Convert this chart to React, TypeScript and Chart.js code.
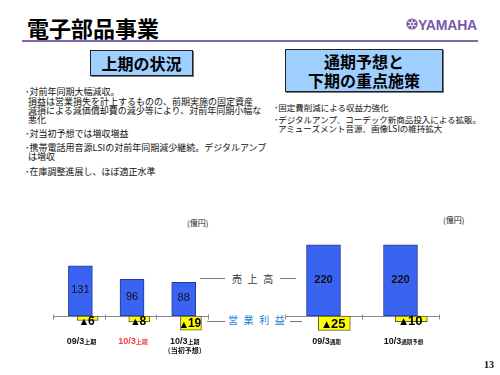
import React, { useEffect, useRef } from "react";
import { Chart, registerables } from "chart.js";

Chart.register(...registerables);

// ---- data ----
const leftCategories = ["09/3", "10/3", "10/3"];
const leftSuffixes = ["上期", "上期", "上期"];
const leftNotes = ["", "", "（当初予想）"];
const leftSales = [131, 96, 88];
const leftProfit = [-6, -8, -19];

const rightCategories = ["09/3", "10/3"];
const rightSuffixes = ["通期", "通期予想"];
const rightNotes = ["", ""];
const rightSales = [220, 220];
const rightProfit = [-25, -10];

const leftBullets = [
  ["･対前年同期大幅減収。", "損益は営業損失を計上するものの、前期実施の固定資産", "減損による減価償却費の減少等により、対前年同期小幅な", "悪化"],
  ["･対当初予想では増収増益"],
  ["･携帯電話用音源LSIの対前年同期減少継続。デジタルアンプ", "は増収"],
  ["･在庫調整進展し、ほぼ適正水準"],
];
const rightBullets = [
  ["･固定費削減による収益力強化"],
  ["･デジタルアンプ、コーデック新商品投入による拡販。", "アミューズメント音源、画像LSIの維持拡大"],
];

const JP = '"Noto Sans CJK JP", "Noto Sans", sans-serif';

const decorPlugin = {
  id: "decor",
  beforeDatasetsDraw(chart: any, _args: any, opts: any) {
    const { ctx, chartArea, scales } = chart;
    const x = scales.x;
    const y0 = Math.round(scales.y.getPixelForValue(0)) + 0.5;
    ctx.save();
    ctx.strokeStyle = "#8a8a8a";
    ctx.lineWidth = 1;
    ctx.beginPath();
    ctx.moveTo(chartArea.left, y0);
    ctx.lineTo(chartArea.right, y0);
    for (let i = 0; i <= opts.count; i++) {
      const px = Math.round(x.getPixelForValue(i - 0.5)) + 0.5;
      ctx.moveTo(px, y0 - 2);
      ctx.lineTo(px, y0 + 3);
    }
    ctx.stroke();
    ctx.restore();
  },
  afterDatasetsDraw(chart: any, _args: any, opts: any) {
    const { ctx, scales } = chart;
    const x = scales.x;
    const y0 = scales.y.getPixelForValue(0);
    ctx.save();
    ctx.textBaseline = "middle";
    ctx.textAlign = "left";
    // sales labels
    const m0 = chart.getDatasetMeta(0);
    m0.data.forEach((el: any, i: number) => {
      const txt = String(opts.sales[i]);
      ctx.font = `${opts.salesBold ? "bold " : ""}${opts.salesSize}px "Liberation Sans", Arial, sans-serif`;
      ctx.fillStyle = "#111";
      const w = ctx.measureText(txt).width;
      ctx.fillText(txt, el.x - w / 2, (el.y + el.base) / 2 - 1);
    });
    // profit labels
    const m1 = chart.getDatasetMeta(1);
    m1.data.forEach((el: any, i: number) => {
      const num = String(Math.abs(opts.profit[i]));
      const cy = Math.max((el.y + el.base) / 2 + 1, y0 + 5.5);
      const triFont = `${opts.profitSize * 0.68}px "DejaVu Sans", sans-serif`;
      const numFont = `bold ${opts.profitSize}px "Liberation Sans", Arial, sans-serif`;
      ctx.font = triFont;
      const tw = ctx.measureText("▲").width;
      ctx.font = numFont;
      const nw = ctx.measureText(num).width;
      const sx = el.x - (tw + nw + 1) / 2;
      ctx.fillStyle = "#000";
      ctx.font = triFont;
      ctx.fillText("▲", sx, cy + 0.5);
      ctx.font = numFont;
      ctx.fillText(num, sx + tw + 1, cy);
    });
    // category labels
    opts.categories.forEach((c: string, i: number) => {
      const cx = x.getPixelForValue(i + opts.labelShift);
      const f1 = `bold 9px "Liberation Sans", Arial, sans-serif`;
      const f2 = `bold ${opts.suffixSize}px ${JP}`;
      ctx.font = f1;
      const w1 = ctx.measureText(c).width;
      ctx.font = f2;
      const w2 = ctx.measureText(opts.suffixes[i]).width;
      const sx = cx - (w1 + w2) / 2;
      ctx.fillStyle = opts.labelColors[i];
      ctx.font = f1;
      ctx.fillText(c, sx, y0 + 25.5);
      ctx.font = f2;
      ctx.fillText(opts.suffixes[i], sx + w1, y0 + 26);
      if (opts.notes[i]) {
        ctx.font = `bold 7px ${JP}`;
        ctx.fillStyle = "#111";
        const w3 = ctx.measureText(opts.notes[i]).width;
        ctx.fillText(opts.notes[i], cx - w3 / 2, y0 + 34);
      }
    });
    ctx.restore();
  },
};

type PanelProps = {
  left: number;
  top: number;
  width: number;
  height: number;
  pad: { left: number; right: number; top: number; bottom: number };
  categories: string[];
  suffixes: string[];
  notes: string[];
  labelColors: string[];
  sales: number[];
  profit: number[];
  yRange: [number, number];
  y2Range: [number, number];
  salesShift: number;
  profitShift: number;
  salesWidth: number;
  profitWidth: number;
  salesBold: boolean;
  salesSize: number;
  profitSize: number;
  suffixSize: number;
  labelShift: number;
};

function Panel(p: PanelProps) {
  const ref = useRef<HTMLCanvasElement>(null);
  useEffect(() => {
    if (!ref.current) return;
    const n = p.categories.length;
    const chart = new Chart(ref.current, {
      type: "bar",
      data: {
        datasets: [
          {
            label: "売上高",
            data: p.sales.map((v, i) => ({ x: i + p.salesShift, y: v })),
            backgroundColor: "#3a63f2",
            borderColor: "#233c9c",
            borderWidth: 1,
            borderSkipped: false,
            barThickness: p.salesWidth,
            grouped: false,
            yAxisID: "y",
          },
          {
            label: "営業利益",
            data: p.profit.map((v, i) => ({ x: i + p.profitShift, y: v })),
            backgroundColor: "#ffff00",
            borderColor: "#5a5a3a",
            borderWidth: 1,
            borderSkipped: false,
            barThickness: p.profitWidth,
            grouped: false,
            yAxisID: "y2",
          },
        ] as any,
      },
      options: {
        animation: false,
        responsive: false,
        layout: { padding: p.pad },
        scales: {
          x: { type: "linear", display: false, min: -0.5, max: n - 0.5, offset: false },
          y: { display: false, min: p.yRange[0], max: p.yRange[1] },
          y2: { display: false, min: p.y2Range[0], max: p.y2Range[1] },
        },
        plugins: {
          legend: { display: false },
          tooltip: { enabled: false },
          decor: {
            count: n,
            categories: p.categories,
            suffixes: p.suffixes,
            notes: p.notes,
            labelColors: p.labelColors,
            sales: p.sales,
            profit: p.profit,
            salesBold: p.salesBold,
            salesSize: p.salesSize,
            profitSize: p.profitSize,
            suffixSize: p.suffixSize,
            labelShift: p.labelShift,
          },
        } as any,
      },
      plugins: [decorPlugin as any],
    });
    return () => chart.destroy();
  }, []);
  return (
    <canvas
      ref={ref}
      width={p.width}
      height={p.height}
      style={{ position: "absolute", left: p.left, top: p.top, width: p.width, height: p.height }}
    />
  );
}

function Text(props: { x: number; cy: number; size: number; children: any; style?: any }) {
  return (
    <div
      style={{
        position: "absolute",
        left: props.x,
        top: props.cy - props.size / 2,
        fontSize: props.size,
        lineHeight: `${props.size}px`,
        whiteSpace: "nowrap",
        fontFamily: JP,
        color: "#111",
        ...(props.style || {}),
      }}
    >
      {props.children}
    </div>
  );
}

export default function App() {
  const leftLineY = [[91, 101, 110, 119], [133], [147, 156], [171]];
  const rightLineY = [[107], [119, 128]];
  return (
    <div
      style={{
        position: "absolute",
        left: 0,
        top: 0,
        width: 500,
        height: 375,
        background: "#fff",
        overflow: "hidden",
        fontFamily: JP,
      }}
    >
      {/* title */}
      <div
        style={{
          position: "absolute",
          left: 27,
          top: 16,
          fontSize: 22,
          lineHeight: "22px",
          fontWeight: 700,
          fontFamily: JP,
          color: "#000",
          whiteSpace: "nowrap",
        }}
      >
        電子部品事業
      </div>
      <div style={{ position: "absolute", left: 22, top: 40, width: 456, height: 2, background: "#7f66b3" }} />
      {/* logo */}
      <svg style={{ position: "absolute", left: 406, top: 18 }} width="12" height="12" viewBox="0 0 12 12">
        <circle cx="6" cy="6" r="5.6" fill="#7a58a8" />
        <g stroke="#fff" strokeWidth="1.2">
          <line x1="6" y1="1.5" x2="6" y2="10.5" />
          <line x1="2.1" y1="3.75" x2="9.9" y2="8.25" />
          <line x1="2.1" y1="8.25" x2="9.9" y2="3.75" />
        </g>
        <circle cx="6" cy="6" r="1.6" fill="#7a58a8" stroke="#fff" strokeWidth="0.8" />
      </svg>
      <div
        style={{
          position: "absolute",
          left: 418,
          top: 17,
          fontSize: 14,
          lineHeight: "16px",
          fontWeight: 700,
          fontFamily: '"Liberation Sans", Arial, sans-serif',
          color: "#7a58a8",
          letterSpacing: -0.2,
        }}
      >
        YAMAHA
      </div>

      {/* heading boxes */}
      <div
        style={{
          position: "absolute",
          left: 90,
          top: 50,
          width: 101,
          height: 24,
          background: "#9fcfff",
          border: "1px solid #222",
          boxShadow: "1px 1px 0 #777",
          display: "flex",
          alignItems: "center",
          justifyContent: "center",
          fontSize: 16,
          fontWeight: 700,
          fontFamily: JP,
          lineHeight: "18px",
          color: "#000",
        }}
      >
        上期の状況
      </div>
      <div
        style={{
          position: "absolute",
          left: 285,
          top: 49,
          width: 156,
          height: 41,
          background: "#9fcfff",
          border: "1px solid #222",
          boxShadow: "1px 1px 0 #777",
          display: "flex",
          flexDirection: "column",
          alignItems: "center",
          justifyContent: "center",
          fontSize: 16,
          fontWeight: 700,
          fontFamily: JP,
          lineHeight: "19px",
          color: "#000",
        }}
      >
        <div>通期予想と</div>
        <div>下期の重点施策</div>
      </div>

      {/* bullets */}
      {leftBullets.map((b, bi) =>
        b.map((line, li) => (
          <Text key={`l${bi}-${li}`} x={li === 0 ? 25 : 28} cy={leftLineY[bi][li]} size={9}>
            {line}
          </Text>
        ))
      )}
      {rightBullets.map((b, bi) =>
        b.map((line, li) => (
          <Text key={`r${bi}-${li}`} x={li === 0 ? 274 : 278} cy={rightLineY[bi][li]} size={8.5}>
            {line}
          </Text>
        ))
      )}

      {/* units */}
      <Text x={187} cy={223} size={8}>(億円)</Text>
      <Text x={443} cy={220} size={8}>(億円)</Text>

      {/* middle legend labels */}
      <div style={{ position: "absolute", left: 200, top: 278, width: 25, height: 1, background: "#777" }} />
      <div style={{ position: "absolute", left: 280, top: 278, width: 16, height: 1, background: "#777" }} />
      <Text x={232} cy={279} size={10} style={{ letterSpacing: 5.6, color: "#333" }}>売上高</Text>
      <div style={{ position: "absolute", left: 207, top: 321, width: 18, height: 1, background: "#777" }} />
      <div style={{ position: "absolute", left: 290, top: 321, width: 12, height: 1, background: "#777" }} />
      <Text x={228} cy={320} size={10} style={{ letterSpacing: 5.6, color: "#1f7fd8" }}>営業利益</Text>

      <Panel
        left={40}
        top={220}
        width={200}
        height={150}
        pad={{ left: 13, right: 32, top: 10, bottom: 34 }}
        categories={leftCategories}
        suffixes={leftSuffixes}
        notes={leftNotes}
        labelColors={["#111", "#ff3b3b", "#111"]}
        sales={leftSales}
        profit={leftProfit}
        yRange={[-52.2, 224.5]}
        y2Range={[-26.7, 114.7]}
        salesShift={0.03}
        profitShift={0.17}
        salesWidth={24}
        profitWidth={21}
        salesBold={false}
        salesSize={11}
        profitSize={12}
        suffixSize={6}
        labelShift={0.05}
      />
      <Panel
        left={270}
        top={220}
        width={200}
        height={150}
        pad={{ left: 15, right: 31, top: 10, bottom: 34 }}
        categories={rightCategories}
        suffixes={rightSuffixes}
        notes={rightNotes}
        labelColors={["#111", "#111"]}
        sales={rightSales}
        profit={rightProfit}
        yRange={[-61.9, 266.3]}
        y2Range={[-34.5, 148.3]}
        salesShift={0.0}
        profitShift={0.14}
        salesWidth={34}
        profitWidth={32}
        salesBold={true}
        salesSize={11}
        profitSize={13}
        suffixSize={5.5}
        labelShift={0.04}
      />

      <div
        style={{
          position: "absolute",
          left: 484,
          top: 360,
          fontSize: 10,
          lineHeight: "10px",
          fontWeight: 700,
          fontFamily: '"Liberation Serif", serif',
          color: "#111",
        }}
      >
        13
      </div>
    </div>
  );
}
